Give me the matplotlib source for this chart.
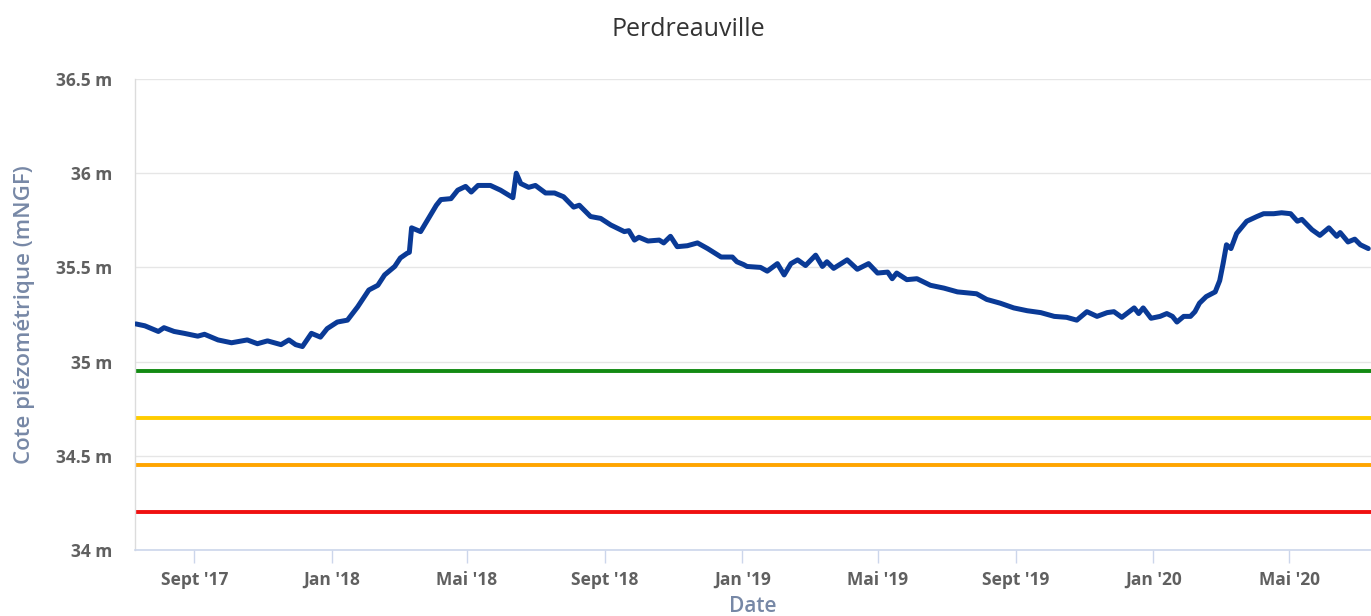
import matplotlib
matplotlib.use('Agg')
import matplotlib.pyplot as plt
import pandas as pd

title = "Perdreauville"
y_label = "Cote piézométrique (mNGF)"
x_label = "Date"

dates = [
    "2017-07-11", "2017-07-19", "2017-07-31", "2017-08-05", "2017-08-14", "2017-08-23",
    "2017-09-04", "2017-09-10", "2017-09-22", "2017-10-04", "2017-10-18", "2017-10-27",
    "2017-11-05", "2017-11-17", "2017-11-24", "2017-11-30", "2017-12-06", "2017-12-14",
    "2017-12-22", "2017-12-28", "2018-01-06", "2018-01-15", "2018-01-24", "2018-02-03",
    "2018-02-11", "2018-02-17", "2018-02-26", "2018-03-03", "2018-03-09", "2018-03-11",
    "2018-03-13", "2018-03-21", "2018-03-27", "2018-04-04", "2018-04-08", "2018-04-17",
    "2018-04-23", "2018-04-30", "2018-05-05", "2018-05-11", "2018-05-22", "2018-05-31",
    "2018-06-11", "2018-06-14", "2018-06-18", "2018-06-25", "2018-07-01", "2018-07-10",
    "2018-07-18", "2018-07-26", "2018-08-04", "2018-08-09", "2018-08-19", "2018-08-28",
    "2018-09-06", "2018-09-18", "2018-09-22", "2018-09-27", "2018-10-01", "2018-10-09",
    "2018-10-19", "2018-10-23", "2018-10-29", "2018-11-04", "2018-11-13", "2018-11-22",
    "2018-12-01", "2018-12-13", "2018-12-23", "2018-12-27", "2019-01-02", "2019-01-05",
    "2019-01-17", "2019-01-23", "2019-02-01", "2019-02-07", "2019-02-13", "2019-02-19",
    "2019-02-26", "2019-03-07", "2019-03-13", "2019-03-17", "2019-03-23", "2019-04-04",
    "2019-04-13", "2019-04-23", "2019-05-01", "2019-05-10", "2019-05-14", "2019-05-18",
    "2019-05-27", "2019-06-05", "2019-06-17", "2019-06-29", "2019-07-11", "2019-07-20",
    "2019-07-28", "2019-08-06", "2019-08-18", "2019-08-30", "2019-09-11", "2019-09-23",
    "2019-10-05", "2019-10-16", "2019-10-25", "2019-11-03", "2019-11-12", "2019-11-21",
    "2019-11-27", "2019-12-04", "2019-12-15", "2019-12-19", "2019-12-23", "2019-12-30",
    "2020-01-07", "2020-01-13", "2020-01-18", "2020-01-22", "2020-01-28", "2020-02-03",
    "2020-02-07", "2020-02-11", "2020-02-17", "2020-02-25", "2020-02-29", "2020-03-03",
    "2020-03-06", "2020-03-10", "2020-03-15", "2020-03-24", "2020-04-02", "2020-04-08",
    "2020-04-17", "2020-04-24", "2020-05-02", "2020-05-08", "2020-05-12", "2020-05-21",
    "2020-05-28", "2020-06-05", "2020-06-12", "2020-06-15", "2020-06-22", "2020-06-28",
    "2020-07-03", "2020-07-10",
]
levels = [
    35.20, 35.19, 35.16, 35.18, 35.16, 35.15,
    35.135, 35.145, 35.115, 35.10, 35.115, 35.095,
    35.11, 35.09, 35.115, 35.09, 35.08, 35.15,
    35.13, 35.175, 35.21, 35.22, 35.29, 35.38,
    35.405, 35.46, 35.505, 35.55, 35.575, 35.58,
    35.71, 35.69, 35.75, 35.83, 35.86, 35.865,
    35.91, 35.93, 35.90, 35.935, 35.935, 35.91,
    35.87, 36.00, 35.945, 35.925, 35.935, 35.895,
    35.895, 35.875, 35.82, 35.83, 35.77, 35.76,
    35.725, 35.69, 35.695, 35.645, 35.66, 35.64,
    35.645, 35.63, 35.665, 35.61, 35.615, 35.63,
    35.60, 35.555, 35.555, 35.53, 35.515, 35.505,
    35.50, 35.48, 35.52, 35.46, 35.52, 35.54,
    35.51, 35.565, 35.505, 35.53, 35.495, 35.54,
    35.49, 35.52, 35.47, 35.475, 35.44, 35.47,
    35.435, 35.44, 35.405, 35.39, 35.37, 35.365,
    35.36, 35.33, 35.31, 35.285, 35.27, 35.26,
    35.24, 35.235, 35.22, 35.265, 35.24, 35.26,
    35.265, 35.235, 35.285, 35.255, 35.285, 35.23,
    35.24, 35.255, 35.24, 35.21, 35.24, 35.24,
    35.265, 35.31, 35.345, 35.37, 35.43, 35.52,
    35.62, 35.60, 35.68, 35.745, 35.77, 35.785,
    35.785, 35.79, 35.785, 35.745, 35.755, 35.70,
    35.67, 35.71, 35.665, 35.685, 35.635, 35.65,
    35.62, 35.60,
]

threshold_values = [34.95, 34.70, 34.45, 34.20]
threshold_colors = ["#138a13", "#ffcc00", "#ffa500", "#f01010"]

xtick_dates = ["2017-09-01", "2018-01-01", "2018-05-01", "2018-09-01", "2019-01-01",
               "2019-05-01", "2019-09-01", "2020-01-01", "2020-05-01"]
xtick_labels = ["Sept '17", "Jan '18", "Mai '18", "Sept '18", "Jan '19",
                "Mai '19", "Sept '19", "Jan '20", "Mai '20"]
ytick_values = [34, 34.5, 35, 35.5, 36, 36.5]
ytick_labels = ["34 m", "34.5 m", "35 m", "35.5 m", "36 m", "36.5 m"]

x_start = "2017-07-10 06:00"
x_end = "2020-07-12 10:00"

plt.rcParams['font.family'] = ['Open Sans', 'DejaVu Sans']

fig = plt.figure(figsize=(13.71, 6.16), dpi=100)
ax = fig.add_axes([135 / 1371, 66 / 616, 1236 / 1371, 471 / 616])

for val, col in zip(threshold_values, threshold_colors):
    ax.axhline(val, color=col, linewidth=2.8, zorder=2)

ax.plot(pd.to_datetime(dates), levels, color="#0a3a96", linewidth=3.6,
        solid_joinstyle='round', solid_capstyle='round', zorder=3)

ax.set_xlim(pd.Timestamp(x_start), pd.Timestamp(x_end))
ax.set_ylim(ytick_values[0], ytick_values[-1])

ax.set_yticks(ytick_values)
ax.set_yticklabels(ytick_labels)
ax.set_xticks(pd.to_datetime(xtick_dates))
ax.set_xticklabels(xtick_labels)

ax.grid(axis='y', color="#e6e6e6", linewidth=1.0, zorder=0)
ax.set_axisbelow(True)

for side in ['top', 'right']:
    ax.spines[side].set_visible(False)
ax.spines['left'].set_color("#dcdcdc")
ax.spines['left'].set_linewidth(1.0)
ax.spines['bottom'].set_color("#ccd6eb")
ax.spines['bottom'].set_linewidth(1.2)

ax.tick_params(axis='y', length=0, pad=16.5, labelsize=12.5, labelcolor="#606060")
ax.tick_params(axis='x', length=9, width=1, color="#ccd6eb", pad=6,
               labelsize=12.5, labelcolor="#606060")
for lbl in ax.get_yticklabels() + ax.get_xticklabels():
    lbl.set_fontweight('bold')

fig.text(688 / 1371, 1 - 29 / 616, title, ha='center', va='center',
         fontsize=18, color="#333333")
ax.set_ylabel(y_label, fontsize=16, color="#7788a6", fontweight='semibold')
ax.yaxis.set_label_coords(-110 / 1236, 0.5)
ax.yaxis.label.set_va('center')
ax.set_xlabel(x_label, fontsize=15, color="#7788a6", fontweight='semibold')
ax.xaxis.set_label_coords(0.5, -57 / 471)
ax.xaxis.label.set_va('center')

fig.savefig("out.png", dpi=100, facecolor="white")
